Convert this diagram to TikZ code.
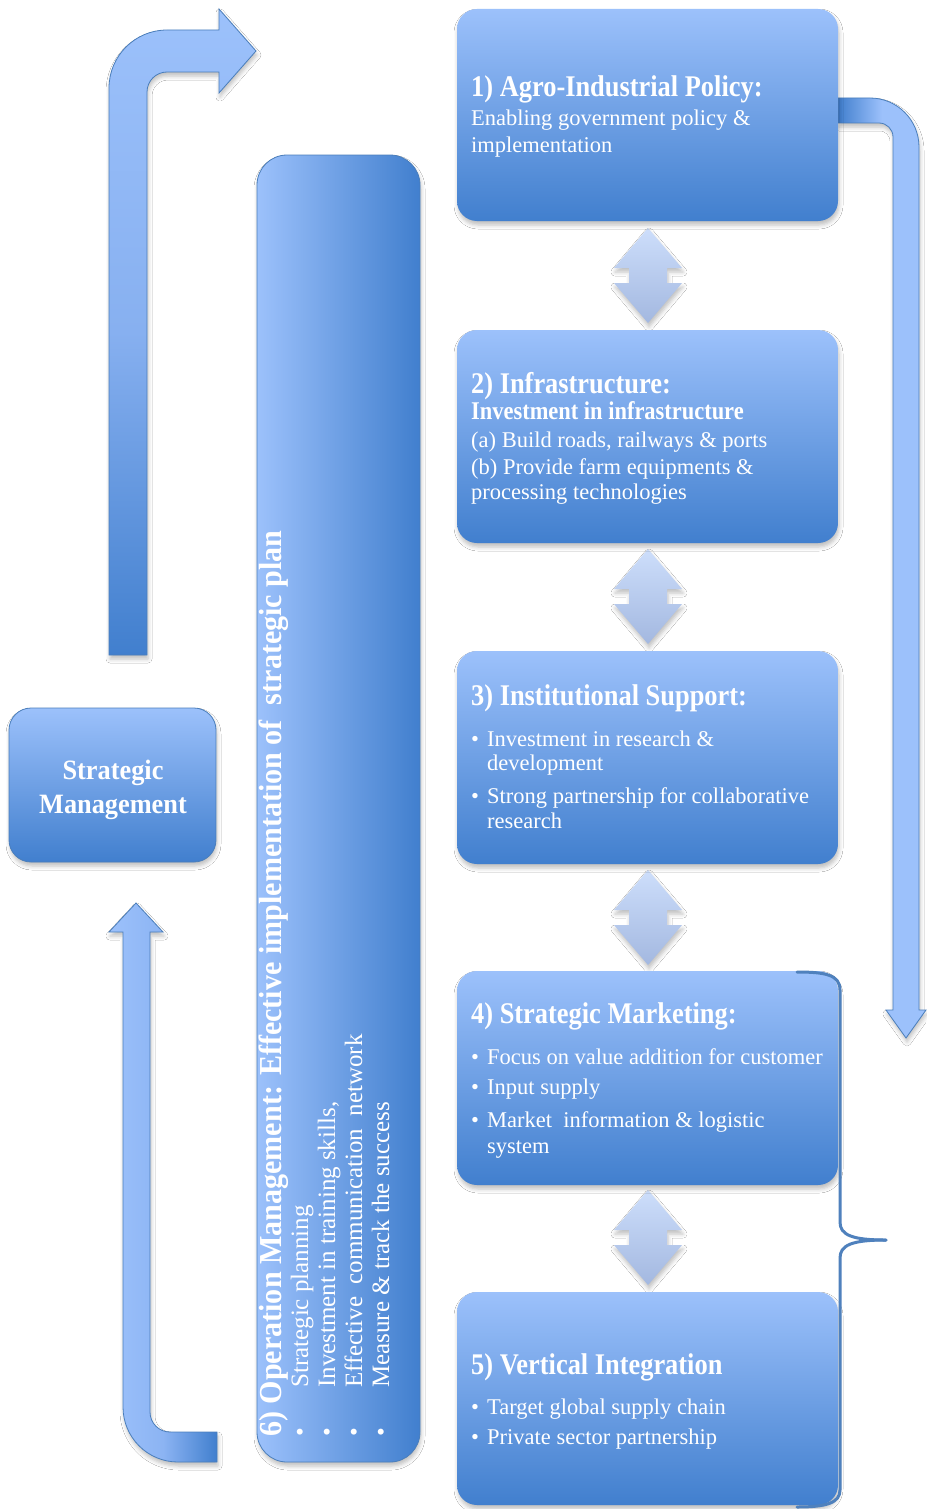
\documentclass[tikz,border=0pt]{standalone}
\usepackage{fontspec}
\setmainfont{Liberation Serif}
\newfontfamily\tfont{Liberation Serif}[FakeStretch=0.88]
\newfontfamily\tsfont{Liberation Serif}[FakeStretch=0.94]
\usetikzlibrary{shadows.blur}
\definecolor{bl}{RGB}{156,193,251}
\definecolor{bd}{RGB}{65,127,206}
\definecolor{edge}{RGB}{74,126,187}
\definecolor{al}{RGB}{205,222,251}
\definecolor{ad}{RGB}{163,184,224}
\definecolor{brc}{RGB}{79,129,189}
\tikzset{
  soft/.style={blur shadow={shadow xshift=1pt, shadow yshift=-4pt, shadow blur radius=4pt, shadow opacity=25}},
  box/.style={rounded corners=20pt, minimum width=381pt, minimum height=212pt, inner sep=0pt,
    top color=bl, bottom color=bd, soft},
  ttl/.style={anchor=base west, inner sep=0pt, text=white, font=\tfont\bfseries\fontsize{30}{34}\selectfont},
  sub/.style={anchor=base west, inner sep=0pt, text=white, font=\tfont\bfseries\fontsize{25.5}{29}\selectfont},
  bdy/.style={anchor=base west, inner sep=0pt, text=white, font=\fontsize{22.5}{27}\selectfont},
  vbdy/.style={anchor=base west, inner sep=0pt, text=white, rotate=90, font=\fontsize{25}{29}\selectfont},
  smt/.style={anchor=base, inner sep=0pt, text=white, font=\tsfont\bfseries\fontsize{28}{32}\selectfont},
  bent/.style={draw=edge, line width=0.8pt, soft},
  dbl/.style={top color=al, bottom color=ad, draw=none, soft},
  brace/.style={draw=brc, line width=3pt, line cap=round, line join=round}
}
\newcommand\Ttl[3]{\node[ttl] (#1) at (471,-#2) {#3};}
\newcommand\Txt[4]{\node[bdy] (#1) at (#2,-#3) {#4};}
\newcommand\Bul[3]{\node[bdy] (#1d) at (471,-#2) {\textbullet}; \node[bdy] (#1) at (487,-#2) {#3};}
\newcommand\VBul[3]{\node[vbdy] (#1d) at (#2,-1437) {\textbullet}; \node[vbdy] (#1) at (#2,-1388) {#3};}
\begin{document}
\begin{tikzpicture}[x=1pt,y=1pt]
\useasboundingbox (0,0) rectangle (926,-1509);
\fill[white] (0,0) rectangle (926,-1509);

% top-left bent arrow
\path[bent, top color=bl, bottom color=bd, middle color={rgb,255:red,135;green,176;blue,240}]
  (109,-655) -- (109,-88) arc[start angle=180, end angle=90, radius=58] -- (219,-30) -- (219,-9)
  -- (256,-51) -- (219,-93) -- (219,-72) -- (167,-72) arc[start angle=90, end angle=180, radius=20]
  -- (147,-655) -- cycle;

% bottom-left bent arrow
\path[bent, left color=bl, right color=bd, middle color={rgb,255:red,140;green,180;blue,243}]
  (123,-932) -- (109,-932) -- (136,-903) -- (163,-932) -- (150,-932) -- (150,-1412)
  arc[start angle=180, end angle=270, radius=20] -- (217,-1432) -- (217,-1462) -- (178,-1462)
  arc[start angle=270, end angle=180, radius=55] -- cycle;

% right bent arrow
\path[bent, left color=bd, right color=bl, middle color=bl]
  (838,-98) -- (870,-98) arc[start angle=90, end angle=0, radius=49] -- (919,-1010) -- (926,-1010)
  -- (906,-1038) -- (886,-1010) -- (893,-1010) -- (893,-137)
  arc[start angle=0, end angle=90, radius=14] -- (838,-123) -- cycle;

% double arrows
\foreach \t in {228,549,870,1190}{
  \path[dbl] (648,-\t) -- (682,{-\t-40}) -- (667,{-\t-40}) -- (667,{-\t-55}) -- (682,{-\t-55})
    -- (648,{-\t-95}) -- (614,{-\t-55}) -- (629,{-\t-55}) -- (629,{-\t-40}) -- (614,{-\t-40}) -- cycle;
}

% boxes
\node[box] (b1) at (647.5,-115) {};
\node[box, minimum height=213pt] (b2) at (647.5,-436.5) {};
\node[box, minimum height=213pt] (b3) at (647.5,-757.5) {};
\node[box, minimum height=214pt] (b4) at (647.5,-1078) {};
\node[box, minimum height=213pt] (b5) at (647.5,-1398.5) {};
\node[rounded corners=30pt, minimum width=163pt, minimum height=1307pt, inner sep=0pt,
  left color=bl, right color=bd, draw=edge, line width=0.8pt, soft] (b6) at (338.5,-808.5) {};
\node[rounded corners=22pt, minimum width=207pt, minimum height=154pt, inner sep=0pt,
  top color=bl, bottom color=bd, draw=edge, line width=0.8pt, soft] (sm) at (112.5,-785) {};

% brace
\draw[brace] (797,-972) .. controls (826,-972) and (840,-975) .. (840,-990) -- (840,-1222)
  .. controls (840,-1235) and (852,-1240) .. (886,-1240);
\draw[brace] (886,-1240) .. controls (852,-1240) and (840,-1245) .. (840,-1258) -- (840,-1490)
  .. controls (840,-1503) and (826,-1507) .. (797,-1507);

% box 1
\Ttl{t1a}{97}{1) Agro-Industrial Policy:}
\Txt{t1b}{471}{125}{Enabling government policy \&}
\Txt{t1c}{471}{152}{implementation}
% box 2
\Ttl{t2a}{393}{2) Infrastructure:}
\node[sub] (t2b) at (471,-419) {Investment in infrastructure};
\Txt{t2c}{471}{447}{(a) Build roads, railways \& ports}
\Txt{t2d}{471}{474}{(b) Provide farm equipments \&}
\Txt{t2e}{471}{499}{processing technologies}
% box 3
\Ttl{t3a}{705}{3) Institutional Support:}
\Bul{t3b}{746}{Investment in research \&}
\Txt{t3c}{487}{770}{development}
\Bul{t3d}{803}{Strong partnership for collaborative}
\Txt{t3e}{487}{828}{research}
% box 4
\Ttl{t4a}{1023}{4) Strategic Marketing:}
\Bul{t4b}{1064}{Focus on value addition for customer}
\Bul{t4c}{1094}{Input supply}
\Bul{t4d}{1127}{Market~ information \& logistic}
\Txt{t4e}{487}{1153}{system}
% box 5
\Ttl{t5a}{1374}{5) Vertical Integration}
\Bul{t5b}{1414}{Target global supply chain}
\Bul{t5c}{1444}{Private sector partnership}

% strategic management
\node[smt] (sma) at (113,-779) {Strategic};
\node[smt] (smb) at (113,-813) {Management};

% box 6 (vertical)
\node[anchor=base west, inner sep=0pt, text=white, rotate=90, font=\tsfont\bfseries\fontsize{32}{36}\selectfont]
  (t6a) at (281,-1437) {6) Operation Management: Effective implementation of~ strategic plan};
\VBul{t6b}{308}{Strategic planning}
\VBul{t6c}{335}{Investment in training skills,}
\VBul{t6d}{362}{Effective~ communication~ network}
\VBul{t6e}{389}{Measure \& track the success}
\end{tikzpicture}
\end{document}
